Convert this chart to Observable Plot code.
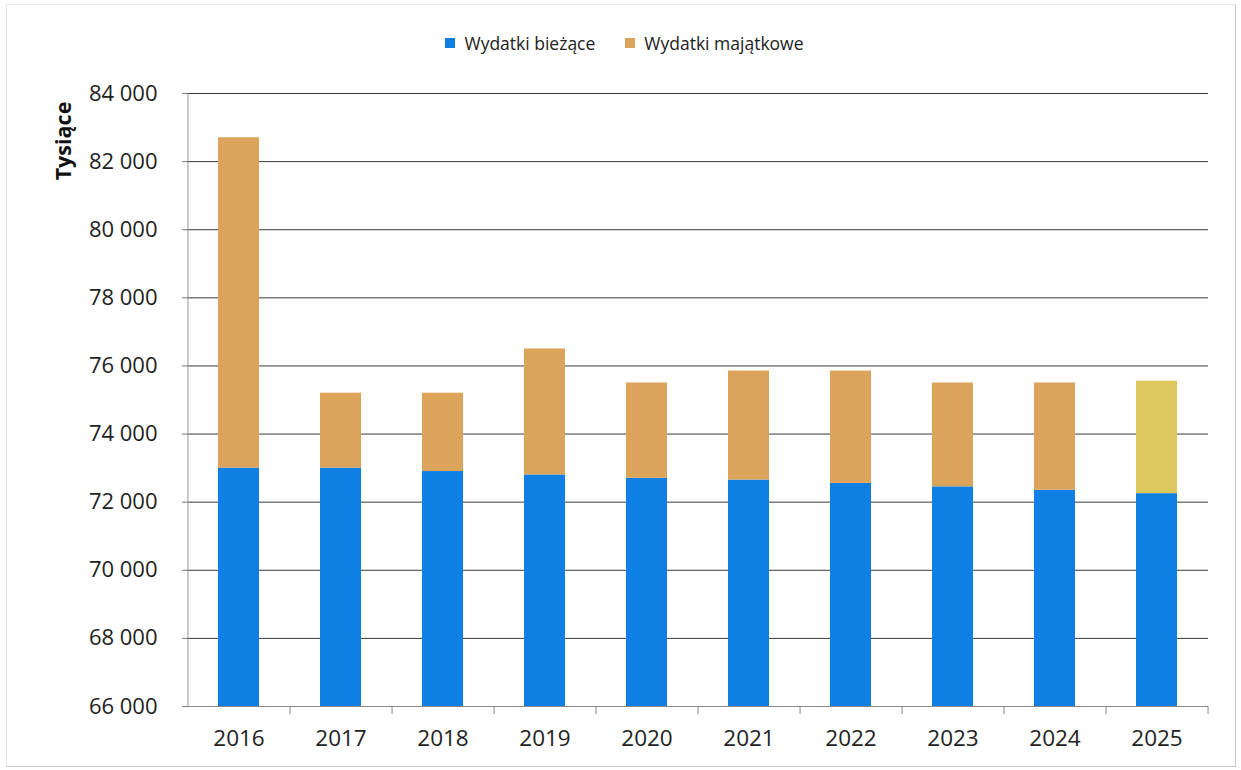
<!DOCTYPE html>
<html>
<head>
<meta charset="utf-8">
<script src="https://cdn.jsdelivr.net/npm/d3@7"></script>
<script src="https://cdn.jsdelivr.net/npm/@observablehq/plot@0.6"></script>
<style>
  html, body { margin: 0; padding: 0; background: #fff; }
  #wrap { position: relative; width: 1241px; height: 770px; overflow: hidden; font-family: "Open Sans", sans-serif; }
  #frame { position: absolute; left: 6px; top: 4px; width: 1230px; height: 763px; border: 1px solid #c8c8c8; border-left-color: #e4e4e4; border-top-color: #e4e4e4; box-sizing: border-box; }
  #legend { position: absolute; top: 31px; left: 0; width: 1241px; display: flex; justify-content: center; gap: 30px; font-size: 17.5px; color: #222; padding-left: 8px; box-sizing: border-box; }
  #legend .item { display: flex; align-items: center; gap: 9px; }
  #legend .sw { width: 10px; height: 10px; display: inline-block; }
  #chart { position: absolute; left: 0; top: 0; }
  #ylab { position: absolute; left: 62px; top: 141px; transform: translate(-50%, -50%) rotate(-90deg); font-weight: bold; font-size: 21.5px; color: #111; white-space: nowrap; }
</style>
</head>
<body>
<div id="wrap">
  <div id="frame"></div>
  <div id="chart"></div>
  <div id="legend"></div>
  <div id="ylab">Tysiące</div>
</div>
<script>
const years = ["2016","2017","2018","2019","2020","2021","2022","2023","2024","2025"];
const currentSpending = [73000, 73000, 72900, 72800, 72700, 72650, 72550, 72450, 72350, 72250];
const totalSpending   = [82700, 75200, 75200, 76500, 75500, 75850, 75850, 75500, 75500, 75550];
const seriesNames = ["Wydatki bieżące", "Wydatki majątkowe"];
const seriesColors = ["#0f7fe3", "#dca45a"];
const yTicks = [66000, 68000, 70000, 72000, 74000, 76000, 78000, 80000, 82000, 84000];

const capitalSpending = totalSpending.map((t, i) => t - currentSpending[i]);

const rows = [];
years.forEach((y, i) => {
  rows.push({year: y, series: seriesNames[0], base: 66000, top: currentSpending[i]});
  rows.push({year: y, series: seriesNames[1], base: currentSpending[i], top: currentSpending[i] + capitalSpending[i]});
});

const width = 1241, height = 770;
const marginLeft = 187, marginRight = 33, marginTop = 93, marginBottom = 64;
const step = (width - marginLeft - marginRight) / years.length;
const fmt = d => d3.format(",")(d).replace(/,/g, " ");
const fillFor = d => (d.series === seriesNames[1] && d.year === "2025") ? "#dcc85c" : (d.series === seriesNames[0] ? seriesColors[0] : seriesColors[1]);

const chart = Plot.plot({
  width, height, marginLeft, marginRight, marginTop, marginBottom,
  style: {fontFamily: "'Open Sans', sans-serif", fontSize: "22px", color: "#222", background: "transparent"},
  x: {domain: years, paddingInner: 0.6, paddingOuter: 0.3, label: null},
  y: {domain: [66000, 84000], label: null},
  marks: [
    Plot.gridY(yTicks, {stroke: "#3a3a3a", strokeOpacity: 1, strokeWidth: 1}),
    Plot.barY(rows, {x: "year", y1: "base", y2: "top", fill: fillFor}),
    Plot.ruleX([0], {x: () => years[0], dx: -step / 2, y1: 66000, y2: 84000, stroke: "#999"}),
    Plot.ruleY([66000], {stroke: "#888"}),
    Plot.axisY(yTicks, {tickSize: 5, tickPadding: 25, tickFormat: fmt, stroke: "#777", fontSize: 22, fill: "#222"}),
    Plot.axisX({tickSize: 8, text: null, dx: step / 2, stroke: "#888"}),
    Plot.axisX({tickSize: 0, tickPadding: 24, fontSize: 22.5, fill: "#222"})
  ]
});
document.getElementById("chart").appendChild(chart);

const legend = document.getElementById("legend");
seriesNames.forEach((n, i) => {
  const it = document.createElement("div");
  it.className = "item";
  const sw = document.createElement("span");
  sw.className = "sw";
  sw.style.background = seriesColors[i];
  it.appendChild(sw);
  const t = document.createElement("span");
  t.textContent = n;
  it.appendChild(t);
  legend.appendChild(it);
});
</script>
</body>
</html>
